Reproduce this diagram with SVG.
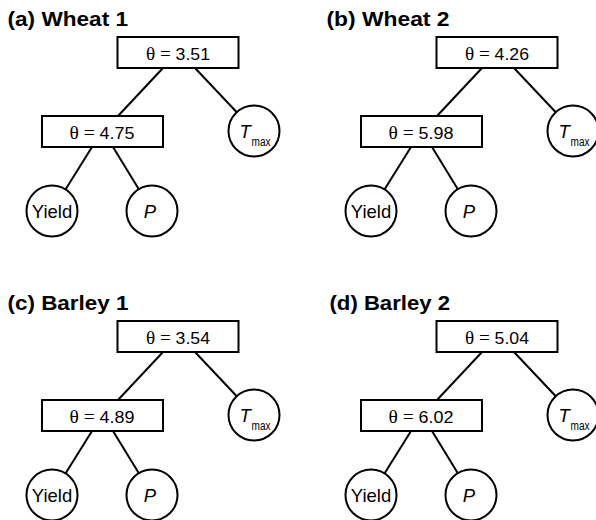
<svg xmlns="http://www.w3.org/2000/svg" width="596" height="520" viewBox="0 0 596 520">
  <style>
    .title { font-family: "Liberation Sans", Arial, sans-serif; font-weight: bold; font-size: 20.5px; fill: #000; }
    .box { fill: #fff; stroke: #000; stroke-width: 2; }
    .leaf { fill: #fff; stroke: #000; stroke-width: 2; }
    .edge { stroke: #000; stroke-width: 2; fill: none; }
    .theta { font-family: "Liberation Sans", Arial, sans-serif; font-size: 17px; fill: #000; }
    .sym { font-family: "Liberation Serif", "Times New Roman", serif; font-size: 18.5px; }
    .var { font-family: "Liberation Sans", Arial, sans-serif; font-size: 18.5px; fill: #000; }
    .it { font-style: italic; }
    .sub { font-family: "Liberation Sans", Arial, sans-serif; font-size: 12px; fill: #000; }
  </style>
  <rect width="596" height="520" fill="#fff"/>

  <!-- (a) Wheat 1 -->
  <g id="panel-a">
    <text class="title" x="7.5" y="26" textLength="120.5" lengthAdjust="spacingAndGlyphs">(a) Wheat 1</text>
    <g id="a-edges">
      <line class="edge" x1="163" y1="68" x2="118" y2="116"/>
      <line class="edge" x1="195" y1="68" x2="237" y2="112.5"/>
      <line class="edge" x1="92" y1="147" x2="65.5" y2="189.5"/>
      <line class="edge" x1="113" y1="147" x2="139" y2="189.5"/>
    </g>
    <g id="a-split1">
      <rect class="box" x="117.5" y="37" width="121" height="31"/>
      <text class="theta" x="146" y="59.5" textLength="64" lengthAdjust="spacingAndGlyphs"><tspan class="sym">θ = </tspan>3.51</text>
    </g>
    <g id="a-split2">
      <rect class="box" x="42" y="116" width="121" height="31"/>
      <text class="theta" x="69.5" y="138.5" textLength="65" lengthAdjust="spacingAndGlyphs"><tspan class="sym">θ = </tspan>4.75</text>
    </g>
    <g id="a-tmax">
      <circle class="leaf" cx="254" cy="131" r="25.5"/>
      <text class="var it" x="239.5" y="137.5" font-size="19">T</text>
      <text class="sub" x="251.5" y="146" textLength="19" lengthAdjust="spacingAndGlyphs">max</text>
    </g>
    <g id="a-yield">
      <circle class="leaf" cx="52" cy="211" r="25.5"/>
      <text class="var" x="52" y="218" text-anchor="middle">Yield</text>
    </g>
    <g id="a-p">
      <circle class="leaf" cx="152" cy="211" r="25.5"/>
      <text class="var it" x="150" y="218" text-anchor="middle">P</text>
    </g>
  </g>

  <!-- (b) Wheat 2 -->
  <g id="panel-b" transform="translate(319,0)">
    <text class="title" x="7.5" y="26" textLength="123" lengthAdjust="spacingAndGlyphs">(b) Wheat 2</text>
    <g id="b-edges">
      <line class="edge" x1="163" y1="68" x2="118" y2="116"/>
      <line class="edge" x1="195" y1="68" x2="237" y2="112.5"/>
      <line class="edge" x1="92" y1="147" x2="65.5" y2="189.5"/>
      <line class="edge" x1="113" y1="147" x2="139" y2="189.5"/>
    </g>
    <g id="b-split1">
      <rect class="box" x="117.5" y="37" width="121" height="31"/>
      <text class="theta" x="146" y="59.5" textLength="64" lengthAdjust="spacingAndGlyphs"><tspan class="sym">θ = </tspan>4.26</text>
    </g>
    <g id="b-split2">
      <rect class="box" x="42" y="116" width="121" height="31"/>
      <text class="theta" x="69.5" y="138.5" textLength="65" lengthAdjust="spacingAndGlyphs"><tspan class="sym">θ = </tspan>5.98</text>
    </g>
    <g id="b-tmax">
      <circle class="leaf" cx="254" cy="131" r="25.5"/>
      <text class="var it" x="239.5" y="137.5" font-size="19">T</text>
      <text class="sub" x="251.5" y="146" textLength="19" lengthAdjust="spacingAndGlyphs">max</text>
    </g>
    <g id="b-yield">
      <circle class="leaf" cx="52" cy="211" r="25.5"/>
      <text class="var" x="52" y="218" text-anchor="middle">Yield</text>
    </g>
    <g id="b-p">
      <circle class="leaf" cx="152" cy="211" r="25.5"/>
      <text class="var it" x="150" y="218" text-anchor="middle">P</text>
    </g>
  </g>

  <!-- (c) Barley 1 -->
  <g id="panel-c" transform="translate(0,284)">
    <text class="title" x="7.5" y="26" textLength="121" lengthAdjust="spacingAndGlyphs">(c) Barley 1</text>
    <g id="c-edges">
      <line class="edge" x1="163" y1="68" x2="118" y2="116"/>
      <line class="edge" x1="195" y1="68" x2="237" y2="112.5"/>
      <line class="edge" x1="92" y1="147" x2="65.5" y2="189.5"/>
      <line class="edge" x1="113" y1="147" x2="139" y2="189.5"/>
    </g>
    <g id="c-split1">
      <rect class="box" x="117.5" y="37" width="121" height="31"/>
      <text class="theta" x="146" y="59.5" textLength="64" lengthAdjust="spacingAndGlyphs"><tspan class="sym">θ = </tspan>3.54</text>
    </g>
    <g id="c-split2">
      <rect class="box" x="42" y="116" width="121" height="31"/>
      <text class="theta" x="69.5" y="138.5" textLength="65" lengthAdjust="spacingAndGlyphs"><tspan class="sym">θ = </tspan>4.89</text>
    </g>
    <g id="c-tmax">
      <circle class="leaf" cx="254" cy="131" r="25.5"/>
      <text class="var it" x="239.5" y="137.5" font-size="19">T</text>
      <text class="sub" x="251.5" y="146" textLength="19" lengthAdjust="spacingAndGlyphs">max</text>
    </g>
    <g id="c-yield">
      <circle class="leaf" cx="52" cy="211" r="25.5"/>
      <text class="var" x="52" y="218" text-anchor="middle">Yield</text>
    </g>
    <g id="c-p">
      <circle class="leaf" cx="152" cy="211" r="25.5"/>
      <text class="var it" x="150" y="218" text-anchor="middle">P</text>
    </g>
  </g>

  <!-- (d) Barley 2 -->
  <g id="panel-d" transform="translate(319,284)">
    <text class="title" x="10.5" y="26" textLength="120.5" lengthAdjust="spacingAndGlyphs">(d) Barley 2</text>
    <g id="d-edges">
      <line class="edge" x1="163" y1="68" x2="118" y2="116"/>
      <line class="edge" x1="195" y1="68" x2="237" y2="112.5"/>
      <line class="edge" x1="92" y1="147" x2="65.5" y2="189.5"/>
      <line class="edge" x1="113" y1="147" x2="139" y2="189.5"/>
    </g>
    <g id="d-split1">
      <rect class="box" x="117.5" y="37" width="121" height="31"/>
      <text class="theta" x="146" y="59.5" textLength="64" lengthAdjust="spacingAndGlyphs"><tspan class="sym">θ = </tspan>5.04</text>
    </g>
    <g id="d-split2">
      <rect class="box" x="42" y="116" width="121" height="31"/>
      <text class="theta" x="69.5" y="138.5" textLength="65" lengthAdjust="spacingAndGlyphs"><tspan class="sym">θ = </tspan>6.02</text>
    </g>
    <g id="d-tmax">
      <circle class="leaf" cx="254" cy="131" r="25.5"/>
      <text class="var it" x="239.5" y="137.5" font-size="19">T</text>
      <text class="sub" x="251.5" y="146" textLength="19" lengthAdjust="spacingAndGlyphs">max</text>
    </g>
    <g id="d-yield">
      <circle class="leaf" cx="52" cy="211" r="25.5"/>
      <text class="var" x="52" y="218" text-anchor="middle">Yield</text>
    </g>
    <g id="d-p">
      <circle class="leaf" cx="152" cy="211" r="25.5"/>
      <text class="var it" x="150" y="218" text-anchor="middle">P</text>
    </g>
  </g>
</svg>
